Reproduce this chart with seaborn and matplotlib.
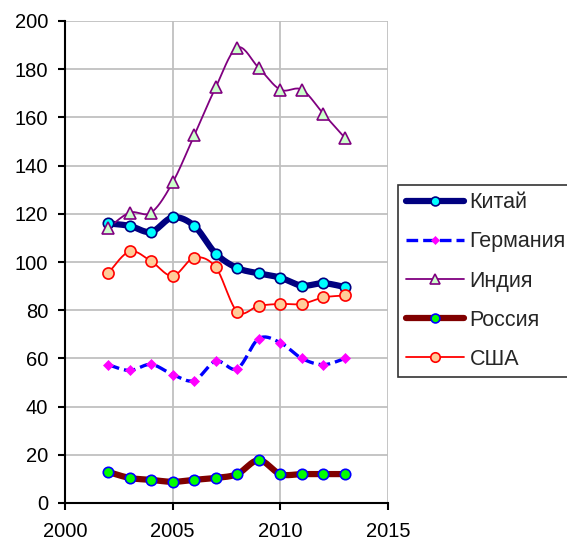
import numpy as np
import pandas as pd
import matplotlib
matplotlib.use("Agg")
import matplotlib.pyplot as plt
from matplotlib.lines import Line2D
import seaborn as sns

years = [2002, 2003, 2004, 2005, 2006, 2007, 2008, 2009, 2010, 2011, 2012, 2013]
china = [116, 115, 112.5, 118.5, 115, 103.5, 97.5, 95.3, 93.5, 90.2, 91.2, 89.6]
germany = [57.4, 55, 57.5, 53.3, 50.8, 58.9, 55.7, 68.2, 66.5, 60, 57.4, 60]
india = [114, 120.5, 120.5, 133, 152.5, 172.5, 189, 180.5, 171.5, 171.5, 161.5, 151.5]
russia = [12.9, 10.4, 9.6, 8.8, 9.6, 10.4, 12, 17.8, 12, 12, 12, 12]
usa = [95.3, 104.4, 100.3, 94.2, 101.8, 97.8, 79.4, 81.8, 82.6, 82.6, 85.3, 86.1]
labels = ["Китай", "Германия", "Индия", "Россия", "США"]
xticks = [2000, 2005, 2010, 2015]
yticks = [0, 20, 40, 60, 80, 100, 120, 140, 160, 180, 200]

sns.set_style("white")
plt.rcParams["font.family"] = ["Liberation Sans", "DejaVu Sans"]


def smooth(x, y, n=20):
    """Catmull-Rom (Excel-style) smoothing of the drawn curve."""
    x = np.asarray(x, float)
    y = np.asarray(y, float)
    px = np.concatenate([[x[0]], x, [x[-1]]])
    py = np.concatenate([[y[0]], y, [y[-1]]])
    xs, ys = [], []
    t = np.linspace(0, 1, n)
    for i in range(1, len(px) - 2):
        p0x, p1x, p2x, p3x = px[i - 1], px[i], px[i + 1], px[i + 2]
        p0y, p1y, p2y, p3y = py[i - 1], py[i], py[i + 1], py[i + 2]
        c1x = p1x + (p2x - p0x) / 6
        c1y = p1y + (p2y - p0y) / 6
        c2x = p2x - (p3x - p1x) / 6
        c2y = p2y - (p3y - p1y) / 6
        bx = (1 - t) ** 3 * p1x + 3 * (1 - t) ** 2 * t * c1x + 3 * (1 - t) * t ** 2 * c2x + t ** 3 * p2x
        by = (1 - t) ** 3 * p1y + 3 * (1 - t) ** 2 * t * c1y + 3 * (1 - t) * t ** 2 * c2y + t ** 3 * p2y
        xs.extend(bx[:-1] if i < len(px) - 3 else bx)
        ys.extend(by[:-1] if i < len(px) - 3 else by)
    return np.array(xs), np.array(ys)


styles = [
    dict(color="#000080", lw=4.5, ls="-", marker="o", ms=7.5, mfc="#00FFFF", mec="#000080", mew=1.2),
    dict(color="#0000FF", lw=2.4, ls=(0, (3.5, 1.5)), marker="D", ms=5, mfc="#FF00FF", mec="#FF00FF", mew=0.5),
    dict(color="#800080", lw=1.3, ls="-", marker="^", ms=9, mfc="#CCFFCC", mec="#800080", mew=1.2),
    dict(color="#800000", lw=4.5, ls="-", marker="o", ms=7.5, mfc="#00FF00", mec="#0000FF", mew=1.2),
    dict(color="#FF0000", lw=1.3, ls="-", marker="o", ms=8, mfc="#FFCC99", mec="#FF0000", mew=1.2),
]

fig = plt.figure(figsize=(5.67, 5.45), dpi=100)
ax = fig.add_axes([65 / 567, 1 - 503 / 545, (388 - 65) / 567, (503 - 21) / 545])

series = [china, germany, india, russia, usa]
handles = []
for vals, lab, st in zip(series, labels, styles):
    sx, sy = smooth(years, vals)
    df = pd.DataFrame({"x": sx, "y": sy})
    sns.lineplot(data=df, x="x", y="y", ax=ax, sort=False, color=st["color"],
                 linewidth=st["lw"], linestyle=st["ls"], legend=False, zorder=3)
    ax.plot(years, vals, linestyle="none", marker=st["marker"], markersize=st["ms"],
            markerfacecolor=st["mfc"], markeredgecolor=st["mec"], markeredgewidth=st["mew"],
            zorder=4, clip_on=False)
    handles.append(Line2D([0], [0], color=st["color"], lw=st["lw"], ls=st["ls"],
                          marker=st["marker"], markersize=st["ms"] * 0.85,
                          markerfacecolor=st["mfc"], markeredgecolor=st["mec"],
                          markeredgewidth=st["mew"], label=lab))

ax.set_xlim(2000, 2015)
ax.set_ylim(0, 200)
ax.set_xticks(xticks)
ax.set_yticks(yticks)
ax.set_xlabel("")
ax.set_ylabel("")
ax.grid(True, color="#c0c0c0", linewidth=1.3, zorder=0)
ax.set_axisbelow(True)
for s in ["top", "right"]:
    ax.spines[s].set_visible(False)
for s in ["left", "bottom"]:
    ax.spines[s].set_color("black")
    ax.spines[s].set_linewidth(1.5)
    ax.spines[s].set_zorder(5)
ax.tick_params(axis="both", which="major", direction="out", length=5, width=1.5,
               color="black", labelsize=14.5, labelcolor="black")
ax.tick_params(axis="x", pad=9, bottom=True)
ax.tick_params(axis="y", pad=7, left=True)

leg = fig.legend(handles=handles, loc="center left",
                 bbox_to_anchor=(398 / 567, 1 - 281 / 545),
                 bbox_transform=fig.transFigure, frameon=True, fancybox=False,
                 fontsize=15.5, handlelength=2.7, handletextpad=0.28,
                 labelspacing=0.84, borderpad=0.35, borderaxespad=0)
leg.get_frame().set_edgecolor("black")
leg.get_frame().set_linewidth(1.2)

fig.savefig("out.png", dpi=100)
